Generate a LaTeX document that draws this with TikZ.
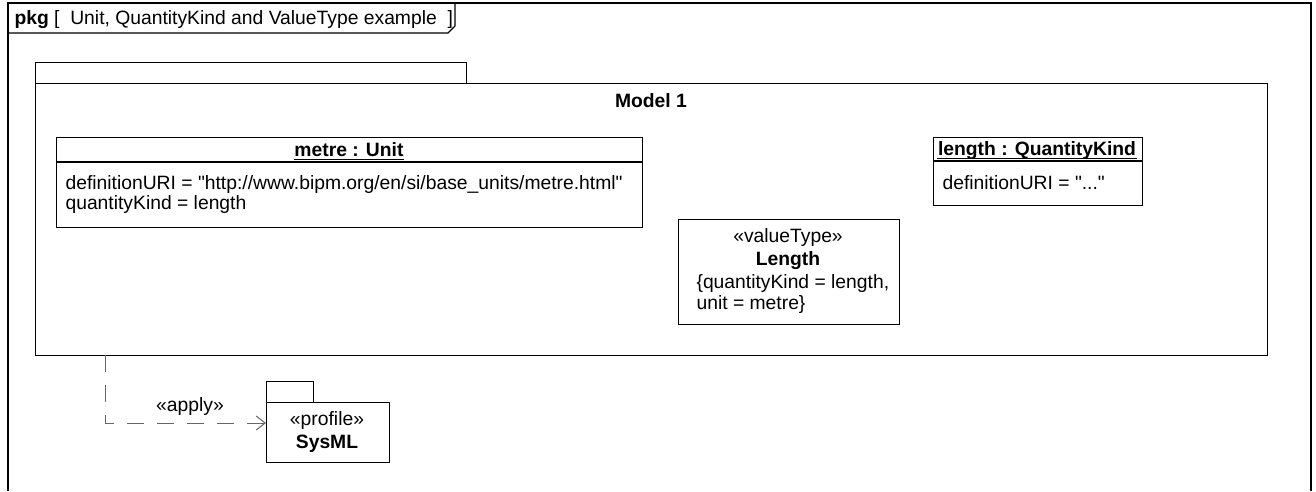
\documentclass[tikz,border=0pt]{standalone}
\usepackage{fontspec}
\setmainfont{Liberation Sans}
\usetikzlibrary{positioning}
\usetikzlibrary{calc}
\usetikzlibrary{arrows.meta}

\begin{document}
\begin{tikzpicture}[x=1pt, y=-1pt, line width=1.1pt, font=\fontsize{19.3}{21}\selectfont,
    box/.style={draw, anchor=north west, inner sep=0pt},
    txt/.style={inner sep=0pt, anchor=base west},
    ctxt/.style={inner sep=0pt, anchor=base},
    bold/.style={ctxt, font=\fontsize{19.3}{21}\selectfont\bfseries},
    uline/.style={line width=0.9pt},
    dep/.style={draw=black!60, line width=1pt, dash pattern=on 17pt off 13pt, -{Straight Barb[length=9pt, width=14pt]}}]
          \useasboundingbox (0,0) rectangle (1316,491);

          % frame
          \draw (8,491) -- (8,3) -- (1311,3) -- (1311,491);
          \draw (8,33) -- (448,33) -- (455,26) -- (455,3);
          \node[txt] (frametitle) at (14,24) {\textbf{pkg} [\ \ Unit, QuantityKind and ValueType example\ \ ]};

          % package Model 1
          \node[box, minimum width=431pt, minimum height=21pt] (modeltab) at (35,62) {};
          \node[box, minimum width=1232pt, minimum height=272pt] (model) at (35,83) {};
          \node[bold] (modelname) at (651,107) {Model 1};

          % metre : Unit
          \node[box, minimum width=586pt, minimum height=90pt] (metre) at (56,137) {};
          \draw (metre.west |- 0,162) -- (metre.east |- 0,162);
          \node[bold] (metrename) at (349,156) {metre : Unit};
          \draw[uline] ($(metrename.base west)+(0,3)$) -- ($(metrename.base east)+(0,3)$);
          \node[txt] (metreuri) at (65,189) {definitionURI = \textquotedbl http://www.bipm.org/en/si/base\_units/metre.html\textquotedbl};
          \node[txt] (metrekind) at (65,209) {quantityKind = length};

          % length : QuantityKind
          \node[box, minimum width=209pt, minimum height=68pt] (kind) at (933,137) {};
          \draw (kind.west |- 0,161) -- (kind.east |- 0,161);
          \node[bold] (kindname) at (1037,155) {length : QuantityKind};
          \draw[uline] ($(kindname.base west)+(0,3.5)$) -- ($(kindname.base east)+(0,3.5)$);
          \node[txt] (kinduri) at (942,189) {definitionURI = \textquotedbl...\textquotedbl};

          % Length value type
          \node[box, minimum width=221pt, minimum height=105pt] (vtype) at (678,219) {};
          \node[ctxt] (vtypest) at (788,242) {«valueType»};
          \node[bold] (vtypename) at (788,265) {Length};
          \node[txt] (vtypekind) at (696,288) {\{quantityKind = length,};
          \node[txt] (vtypeunit) at (696,309) {unit = metre\}};

          % profile SysML
          \node[box, minimum width=47pt, minimum height=21pt] (sysmltab) at (266,381) {};
          \node[box, minimum width=123pt, minimum height=60pt] (sysml) at (266,402) {};
          \node[ctxt] (sysmlst) at (327,425) {«profile»};
          \node[bold] (sysmlname) at (327,448) {SysML};

          % apply
          \coordinate (applyfrom) at (105,355);
          \coordinate (applyto) at ($(sysml.north west)+(0,21)$);
          \draw[dep] (applyfrom) |- (applyto);
          \node[ctxt] (applylabel) at (190,411) {«apply»};
        \end{tikzpicture}
\end{document}
